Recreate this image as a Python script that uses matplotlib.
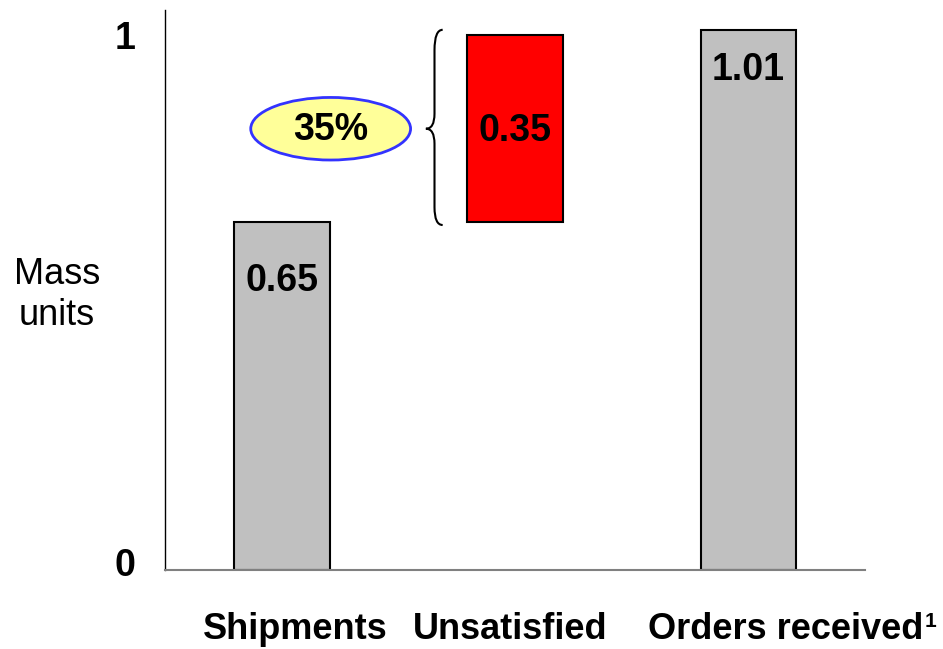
import matplotlib
matplotlib.use("Agg")
import matplotlib.pyplot as plt
import matplotlib.transforms as mtransforms
from matplotlib.patches import Ellipse, PathPatch
from matplotlib.path import Path

plt.rcParams["font.family"] = ["Liberation Sans", "DejaVu Sans"]

categories = ["Shipments", "Unsatisfied", "Orders received"]
bar_bottoms = [0, 0.65, 0]
bar_heights = [0.65, 0.35, 1.01]
bar_labels = ["0.65", "0.35", "1.01"]
bar_colors = ["#c0c0c0", "#ff0000", "#c0c0c0"]
share_label = "35%"
footnote_mark = "1"

# label positions (data units)
label_x = [0.06, 0.98, 2.16]
value_y = [0.54, 0.82, 0.935]

fig = plt.figure(figsize=(9.43, 6.49), dpi=100)
ax = fig.add_axes([165 / 943, 79 / 649, 700 / 943, 560 / 649])

x = range(len(categories))
ax.bar(x, bar_heights, bottom=bar_bottoms, width=0.41, color=bar_colors,
       edgecolor="black", linewidth=1.5, zorder=2)

for xi, lab, yv in zip(x, bar_labels, value_y):
    ax.text(xi, yv, lab, ha="center", va="center", fontsize=27, fontweight="bold")

ax.set_xlim(-0.5, 2.5)
ax.set_ylim(0, 1.047)
ax.set_xticks([])
ax.set_yticks([0, 1])
ax.set_yticklabels(["0", "1"], fontsize=27, fontweight="bold")
ax.tick_params(axis="y", length=0, pad=21)
up = mtransforms.ScaledTranslation(0, 8 / 100, fig.dpi_scale_trans)
lbl0 = ax.get_yticklabels()[0]
lbl0.set_transform(lbl0.get_transform() + up)

ax.spines["top"].set_visible(False)
ax.spines["right"].set_visible(False)
ax.spines["left"].set_color("black")
ax.spines["left"].set_linewidth(1.0)
ax.spines["bottom"].set_color("#808080")
ax.spines["bottom"].set_linewidth(1.5)

for lx, cat in zip(label_x, categories):
    t = ax.text(lx, -0.112, cat, ha="center", va="center", fontsize=26,
                fontweight="bold", clip_on=False)
ax.annotate(footnote_mark, xy=(1, 0.5), xycoords=t, xytext=(1, 6),
            textcoords="offset points", ha="left", va="center",
            fontsize=15, fontweight="bold")

fig.text(57 / 943, 1 - 295 / 649, "Mass\nunits", ha="center", va="center",
         fontsize=26, linespacing=1.25)

# ellipse with share
ell = Ellipse((0.21, 0.825), 0.685, 0.117, facecolor="#ffff99",
              edgecolor="#3333ff", linewidth=2, zorder=3)
ax.add_patch(ell)
ax.text(0.21, 0.822, share_label, ha="center", va="center", fontsize=27,
        fontweight="bold", zorder=4)

# brace next to the unsatisfied bar
yb, yt = bar_bottoms[1], bar_bottoms[1] + bar_heights[1]
ym = (yb + yt) / 2
xe, xm, xt = 0.69, 0.655, 0.618
r = 0.028
verts = [
    (xe, yt + 0.01), (xm, yt + 0.01), (xm, yt - r),
    (xm, ym + r),
    (xm, ym), (xt, ym),
    (xm, ym), (xm, ym - r),
    (xm, yb + r),
    (xm, yb - 0.005), (xe, yb - 0.005),
]
codes = [Path.MOVETO, Path.CURVE3, Path.CURVE3,
         Path.LINETO,
         Path.CURVE3, Path.CURVE3,
         Path.CURVE3, Path.CURVE3,
         Path.LINETO,
         Path.CURVE3, Path.CURVE3]
ax.add_patch(PathPatch(Path(verts, codes), facecolor="none", edgecolor="black",
                       linewidth=1.5, clip_on=False))

fig.savefig("out.png", dpi=100)
